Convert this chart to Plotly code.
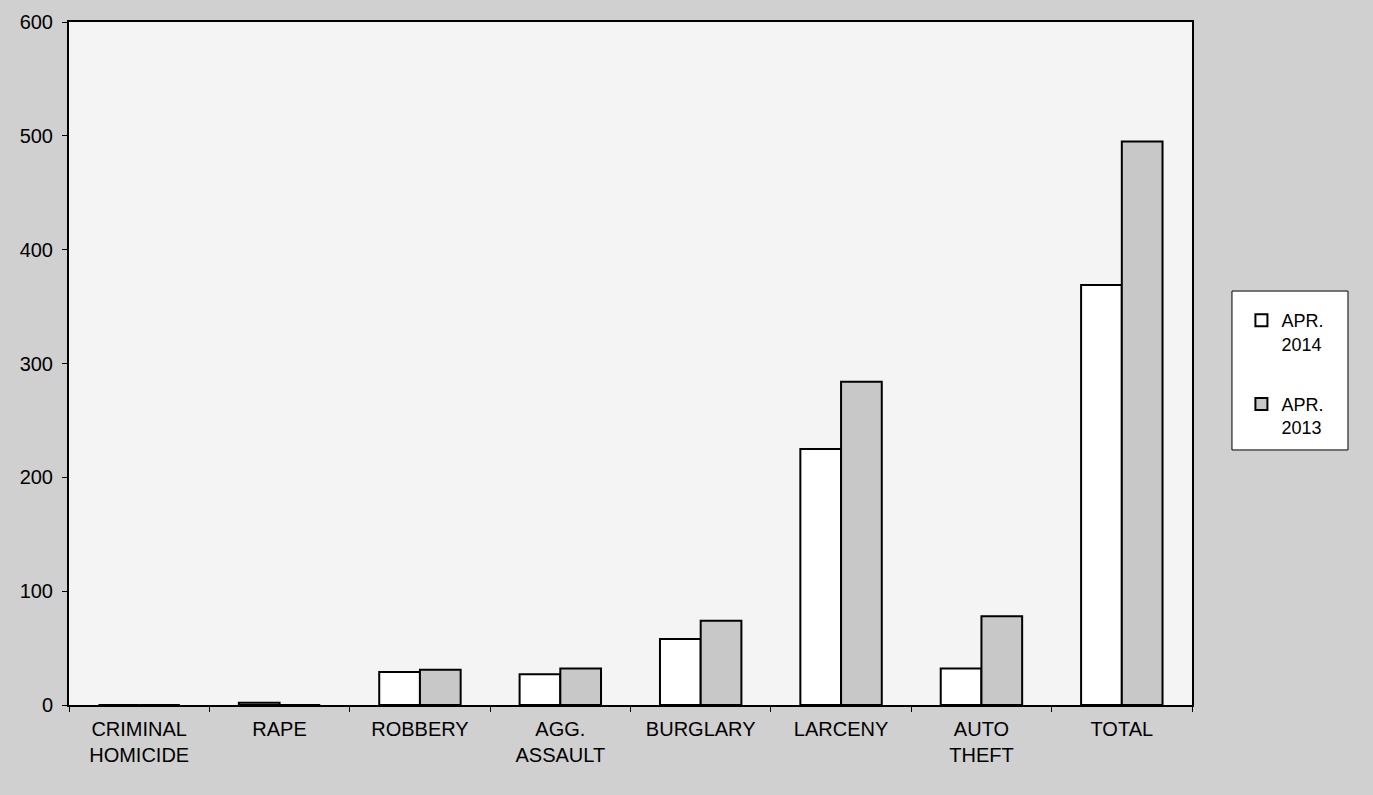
import plotly.graph_objects as go

categories = ["CRIMINAL<br>HOMICIDE", "RAPE", "ROBBERY", "AGG.<br>ASSAULT",
              "BURGLARY", "LARCENY", "AUTO<br>THEFT", "TOTAL"]
apr_2014 = [0, 2, 29, 27, 58, 225, 32, 369]
apr_2013 = [0, 0, 31, 32, 74, 284, 78, 495]
y_ticks = [0, 100, 200, 300, 400, 500, 600]

FONT = "Liberation Sans, Arial, sans-serif"

fig = go.Figure()
fig.add_trace(go.Bar(x=categories, y=apr_2014, name="APR.<br>2014", legendgroup="a",
                     marker=dict(color="white", line=dict(color="black", width=2))))
fig.add_trace(go.Bar(x=categories, y=apr_2013, name="APR.<br>2013", legendgroup="b",
                     marker=dict(color="#c8c8c8", line=dict(color="black", width=2))))

# legend frame
fig.add_shape(type="rect", xref="paper", yref="paper",
              x0=1.0356, x1=1.1389, y0=0.3734, y1=0.6061,
              line=dict(color="black", width=1), fillcolor="white", layer="below")

fig.update_layout(
    width=1373, height=795,
    margin=dict(l=69, r=181, t=22, b=90),
    paper_bgcolor="#d0d0d0",
    plot_bgcolor="#f4f4f4",
    barmode="group",
    bargap=0.42,
    bargroupgap=0,
    font=dict(family=FONT, color="black", size=20),
    showlegend=True,
    legend=dict(
        x=1.044, y=0.59, xanchor="left", yanchor="top",
        bgcolor="rgba(0,0,0,0)", borderwidth=0,
        font=dict(size=18, family=FONT, color="black"),
        tracegroupgap=34, itemwidth=30, valign="top",
    ),
    xaxis=dict(
        showline=True, linecolor="black", linewidth=2, mirror=True,
        ticks="outside", ticklen=5, tickcolor="black", tickson="boundaries",
        showgrid=False, tickfont=dict(size=20), ticklabelstandoff=5,
    ),
    yaxis=dict(
        range=[0, 600], tickvals=y_ticks,
        showline=True, linecolor="black", linewidth=2, mirror=True,
        ticks="outside", ticklen=5, tickcolor="black",
        showgrid=False, zeroline=False, tickfont=dict(size=20),
        ticklabelstandoff=5,
    ),
)

fig.write_html("out.html", config={"displayModeBar": False},
               post_script="document.body.style.margin='0';document.body.style.background='#d0d0d0';")
